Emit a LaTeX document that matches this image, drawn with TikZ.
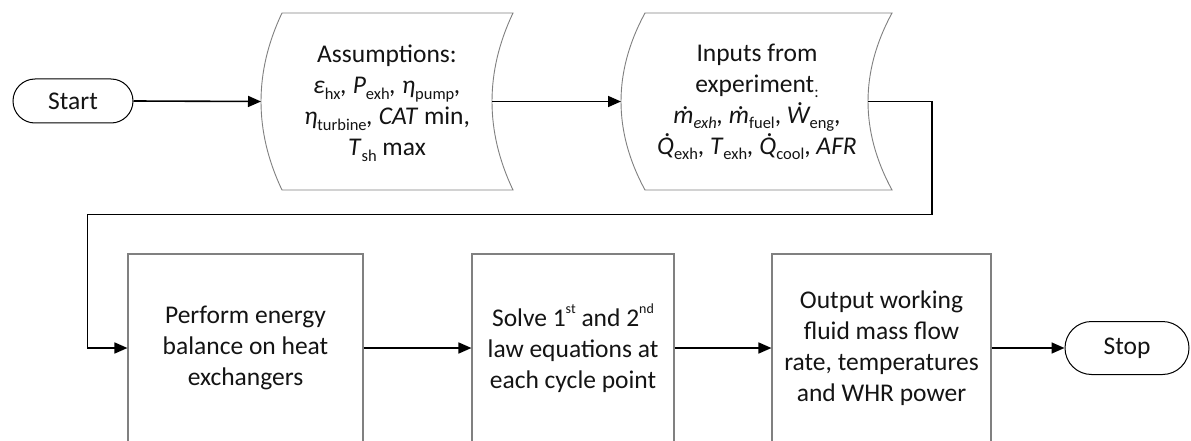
\documentclass[tikz,border=0pt]{standalone}
\usepackage{fontspec}
\setmainfont{Carlito}
\usetikzlibrary{arrows.meta,calc,shapes.misc}
\newcommand\sbx[1]{\raisebox{-0.22em}{\fontsize{16.5}{16.5}\selectfont #1}}
\newcommand\spx[1]{\raisebox{0.5em}{\fontsize{14}{14}\selectfont #1}}
\newcommand\dotit[1]{\setbox0\hbox{\itshape #1}\setbox2\hbox{.}\rlap{\kern\dimexpr0.5\wd0-0.5\wd2+0.07em\relax\raise\dimexpr\ht0+0.05em\relax\box2}\box0}
\newcommand\storedshape[5]{% node, left corner, right corner, bulge, half height
  \draw[outline] ($(#1)+(#2,-#5)$) -- ($(#1)+(#3,-#5)$)
    .. controls ($(#1)+({#3-1.333*#4},{-#5/3})$) and ($(#1)+({#3-1.333*#4},{#5/3})$) .. ($(#1)+(#3,#5)$)
    -- ($(#1)+(#2,#5)$)
    .. controls ($(#1)+({#2-1.333*#4},{#5/3})$) and ($(#1)+({#2-1.333*#4},{-#5/3})$) .. cycle;
}
\begin{document}
\begin{tikzpicture}[x=1pt,y=-1pt,
  txt/.style={font=\fontsize{25.5}{31}\selectfont, align=center, text=black!92, inner sep=0pt},
  outline/.style={draw=black!50, line width=0.9pt},
  procbox/.style={txt, draw=black!50, line width=1.1pt, minimum height=188pt},
  pill/.style={txt, rounded rectangle, draw=black, line width=1pt},
  conn/.style={draw=black, line width=1.6pt, -{Triangle[length=13pt,width=11pt]}}]
\useasboundingbox (0,0) rectangle (1191,441);
\clip (0,0) rectangle (1191,441);
\fill[white] (0,0) rectangle (1191,441);

% top row
\node[pill, minimum width=120pt, minimum height=44pt] (start) at (73,101) {Start};
\node[txt] (ass) at (387,103) {Assumptions:\\
  \textit{ε}\sbx{hx}\textit{,} \textit{P}\sbx{exh}\textit{,} \textit{η}\sbx{pump}\textit{,}\\
  \textit{η}\sbx{turbine}\textit{,} \textit{CAT} min,\\
  \textit{T}\sbx{sh} max};
\coordinate (assC) at (387,101.5);
\storedshape{assC}{-105}{126}{21}{88.5}
\coordinate (assIn) at ($(assC)+(-126,0)$);
\coordinate (assOut) at ($(assC)+(105,0)$);

\node[txt] (inp) at (757,102) {Inputs from\\
  experiment\sbx{:}\\
  \dotit{m}\sbx{\itshape exh}\textit{,} \dotit{m}\sbx{fuel}, \dotit{W}\sbx{eng},\\
  \dotit{Q}\sbx{exh}, \textit{T}\sbx{exh}\textit{,} \dotit{Q}\sbx{cool}, \textit{AFR}};
\coordinate (inpC) at (757,101.5);
\storedshape{inpC}{-112}{135}{24}{88.5}
\coordinate (inpIn) at ($(inpC)+(-136,0)$);
\coordinate (inpOut) at ($(inpC)+(111,0)$);

% bottom row
\node[procbox, minimum width=235pt] (b1) at (245.5,348) {Perform energy\\balance on heat\\exchangers};
\node[procbox, minimum width=202pt] (b2) at (573,348) {Solve 1\spx{st} and 2\spx{nd}\\law equations at\\each cycle point};
\node[procbox, minimum width=219pt] (b3) at (881.5,348) {Output working\\fluid mass flow\\rate, temperatures\\and WHR power};
\node[pill, minimum width=124pt, minimum height=53pt] (stop) at (1127,348) {Stop};

% connectors
\draw[conn] (start.east) -- (assIn);
\draw[conn] (assOut) -- (inpIn);
\draw[conn] (inpOut) -| ($(inpOut)+(64,113)$) -| ($(b1.west)+(-40,0)$) -- (b1.west);
\draw[conn] (b1.east) -- (b2.west);
\draw[conn] (b2.east) -- (b3.west);
\draw[conn] (b3.east) -- (stop.west);
\end{tikzpicture}
\end{document}
